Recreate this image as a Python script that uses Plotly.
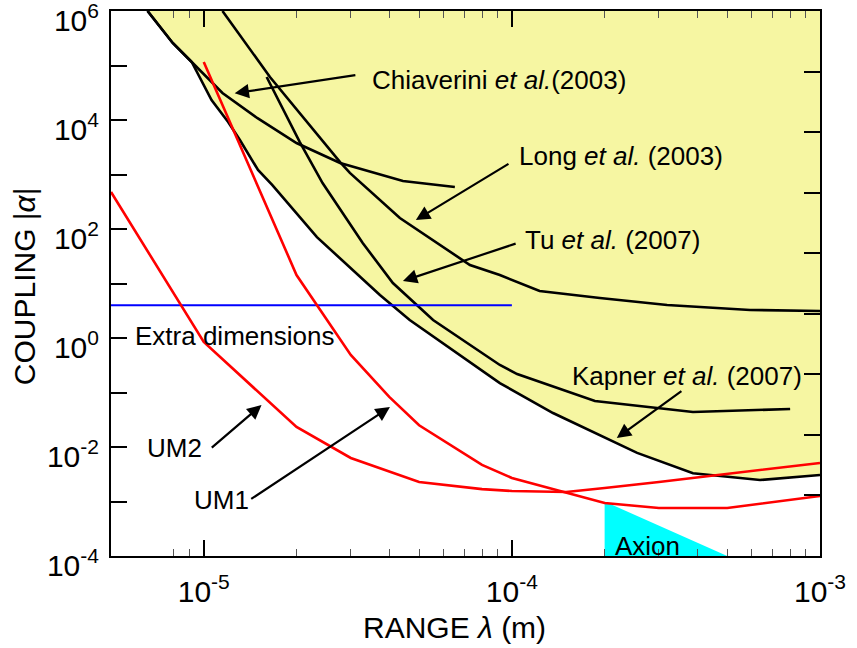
import math
import plotly.graph_objects as go

# ---------------- data ----------------
kapner_x = [6.57e-6, 7.93e-6, 9.14e-6, 1.06e-5, 1.20e-5, 1.31e-5, 1.50e-5, 1.67e-5, 2.33e-5,
            3.73e-5, 4.66e-5, 9.14e-5, 1.36e-4, 2.55e-4, 3.87e-4, 6.39e-4, 1.0e-3]
kapner_y = [1e6, 2.59e5, 1.16e5, 2.33e4, 9.2e3, 4.3e3, 1.21e3, 641, 71,
            6.15, 2.14, 0.149, 0.042, 7.8e-3, 3.3e-3, 2.48e-3, 3.06e-3]

chiav_x = [6.57e-6, 7.93e-6, 9.14e-6, 1.15e-5, 1.49e-5, 2.0e-5, 2.77e-5, 4.43e-5, 6.53e-5]
chiav_y = [1e6, 2.59e5, 1.16e5, 3.13e4, 1.09e4, 3.78e3, 1.63e3, 760, 590]

long_x = [1.15e-5, 1.64e-5, 2.77e-5, 2.98e-5, 4.33e-5, 7.31e-5, 9.14e-5, 1.23e-4, 1.93e-4,
          3.19e-4, 5.93e-4, 1.0e-3]
long_y = [1e6, 6.15e4, 1.69e3, 1.07e3, 159, 21.8, 14.3, 7.28, 5.42, 4.03, 3.27, 3.13]

tu_x = [1.60e-5, 2.05e-5, 2.43e-5, 3.28e-5, 4.11e-5, 5.55e-5, 9.14e-5, 1.04e-4, 1.86e-4, 3.87e-4, 8.0e-4]
tu_y = [6.15e4, 3.94e3, 698, 55.3, 10.2, 2.14, 0.32, 0.218, 0.070, 0.0439, 0.0498]

um1_x = [1e-5, 2e-5, 3e-5, 4e-5, 5e-5, 8e-5, 1e-4, 1.5e-4, 2e-4, 3e-4, 5e-4, 1e-3]
um1_y = [1.16e5, 14.3, 0.49, 0.083, 0.025, 4.7e-3, 2.7e-3, 1.43e-3, 9.4e-4, 7.6e-4, 7.6e-4, 1.26e-3]

um2_x = [5e-6, 1e-5, 2e-5, 3e-5, 5e-5, 8e-5, 1e-4, 1.5e-4, 2e-4, 3e-4, 1e-3]
um2_y = [478, 0.845, 0.0233, 6.3e-3, 2.28e-3, 1.69e-3, 1.56e-3, 1.49e-3, 1.77e-3, 2.28e-3, 5.1e-3]

extra_x = [5e-6, 1e-4]
extra_y = [4, 4]

axion_x = [2e-4, 2e-4, 5e-4]
axion_y = [1e-3, 1e-4, 1e-4]

x_range = [5e-6, 1e-3]
y_range = [1e-4, 1e6]

y_tick_vals = [10.0 ** k for k in range(-4, 7)]
y_tick_text = ["10<sup>%d</sup>" % k if k % 2 == 0 else "" for k in range(-4, 7)]
x_tick_vals = [1e-5, 1e-4, 1e-3]
x_tick_text = ["10<sup>-5</sup>", "10<sup>-4</sup>", "10<sup>-3</sup>"]
x_minor_vals = [8e-6, 9e-6] + [m * 1e-5 for m in range(2, 10)] + [m * 1e-4 for m in range(2, 10)]
right_tick_vals = list(range(10))   # right frame carries 9 equal intervals

x_title = "RANGE <i>λ</i> (m)"
y_title = "COUPLING |<i>α</i>|"

# labels: (text, x, y)  -- left/middle anchored
labels = [
    ("Chiaverini <i>et al.</i>(2003)", 3.46e-5, 5.4e4),
    ("Long <i>et al.</i> (2003)", 1.04e-4, 2.18e3),
    ("Tu <i>et al.</i> (2007)", 1.09e-4, 62.8),
    ("Kapner <i>et al.</i> (2007)", 1.54e-4, 0.2),
    ("Extra dimensions", 5.88e-6, 1.09),
    ("UM2", 6.43e-6, 9.6e-3),
    ("UM1", 9.14e-6, 1.07e-3),
    ("Axion", 2.13e-4, 1.52e-4),
]
# arrows: (tail x, tail y, head x, head y)
arrows = [
    (3.14e-5, 6.7e4, 1.26e-5, 3.1e4),
    (9.86e-5, 1.63e3, 4.88e-5, 146),
    (1.04e-4, 55, 4.43e-5, 11.1),
    (3.59e-4, 0.111, 2.19e-4, 0.0146),
    (1.05e-5, 9.2e-3, 1.54e-5, 0.059),
    (1.41e-5, 1.07e-3, 4.02e-5, 0.054),
]

FONT = "Liberation Sans, Arial, sans-serif"
BLACK_W = 2.6
RED_W = 2.6

fig = go.Figure()

# yellow excluded region (above Kapner envelope)
fig.add_trace(go.Scatter(
    x=kapner_x + [x_range[1]], y=kapner_y + [y_range[1]],
    fill="toself", fillcolor="#F6F6A2", mode="none", hoverinfo="skip", showlegend=False))

# axion triangle
fig.add_trace(go.Scatter(x=axion_x, y=axion_y, fill="toself", fillcolor="#00FFFF",
                         mode="none", hoverinfo="skip", showlegend=False))

for xs, ys in [(kapner_x, kapner_y), (chiav_x, chiav_y), (long_x, long_y), (tu_x, tu_y)]:
    fig.add_trace(go.Scatter(x=xs, y=ys, mode="lines",
                             line=dict(color="black", width=BLACK_W), showlegend=False))

fig.add_trace(go.Scatter(x=extra_x, y=extra_y, mode="lines",
                         line=dict(color="#0000FF", width=2), showlegend=False))

for xs, ys in [(um1_x, um1_y), (um2_x, um2_y)]:
    fig.add_trace(go.Scatter(x=xs, y=ys, mode="lines",
                             line=dict(color="#FF0000", width=RED_W), showlegend=False))

# invisible helper so the right-hand tick axis is drawn
fig.add_trace(go.Scatter(x=x_range[:1], y=right_tick_vals[:1], yaxis="y2", mode="markers",
                         marker=dict(opacity=0), hoverinfo="skip", showlegend=False))

annotations = []
for text, lx, ly in labels:
    annotations.append(dict(text=text, x=math.log10(lx), y=math.log10(ly), xref="x", yref="y",
                            xanchor="left", yanchor="middle", showarrow=False,
                            font=dict(family=FONT, size=26, color="black")))
for tx, ty, hx, hy in arrows:
    annotations.append(dict(text="", x=math.log10(hx), y=math.log10(hy), xref="x", yref="y",
                            ax=math.log10(tx), ay=math.log10(ty), axref="x", ayref="y",
                            showarrow=True, arrowhead=2, arrowsize=1.3, arrowwidth=2.2,
                            arrowcolor="black", standoff=0, startstandoff=0))
# axis titles
annotations.append(dict(text=x_title, xref="paper", yref="paper", x=0.485, y=-0.132,
                        xanchor="center", yanchor="middle", showarrow=False,
                        font=dict(family=FONT, size=30, color="black")))
annotations.append(dict(text=y_title, xref="paper", yref="paper", x=-0.1227, y=0.495,
                        xanchor="center", yanchor="middle", showarrow=False, textangle=-90,
                        font=dict(family=FONT, size=30, color="black")))

fig.update_layout(
    width=857, height=648,
    margin=dict(l=111, r=37, t=11, b=92, autoexpand=False),
    paper_bgcolor="white", plot_bgcolor="white",
    font=dict(family=FONT, size=30, color="black"),
    showlegend=False,
    annotations=annotations,
    xaxis=dict(
        type="log", range=[math.log10(x_range[0]), math.log10(x_range[1])],
        tickmode="array", tickvals=x_tick_vals, ticktext=x_tick_text,
        ticks="inside", ticklen=16, tickwidth=2, tickcolor="black",
        showline=True, linecolor="black", linewidth=2, mirror="ticks",
        showgrid=False, zeroline=False, automargin=False,
        tickfont=dict(family=FONT, size=30), ticklabelstandoff=8,
        ticklabeloverflow="allow",
        minor=dict(tickmode="array", tickvals=x_minor_vals, ticks="inside",
                   ticklen=7, tickwidth=1, tickcolor="#555555", showgrid=False),
    ),
    yaxis=dict(
        type="log", range=[math.log10(y_range[0]), math.log10(y_range[1])],
        tickmode="array", tickvals=y_tick_vals, ticktext=y_tick_text,
        ticks="inside", ticklen=16, tickwidth=2, tickcolor="black",
        showline=True, linecolor="black", linewidth=2, mirror=True,
        showgrid=False, zeroline=False, automargin=False,
        tickfont=dict(family=FONT, size=30), ticklabelstandoff=4,
        ticklabelshift=9, ticklabeloverflow="allow",
    ),
    yaxis2=dict(
        overlaying="y", side="right", anchor="x", range=[0, 9],
        tickmode="array", tickvals=right_tick_vals, ticks="inside", ticklen=16,
        tickwidth=2, tickcolor="black", showticklabels=False, showgrid=False,
        zeroline=False, showline=False, automargin=False, fixedrange=True,
    ),
)

fig.write_html("out.html", config={"displayModeBar": False},
               post_script="document.body.style.margin='0px';")
